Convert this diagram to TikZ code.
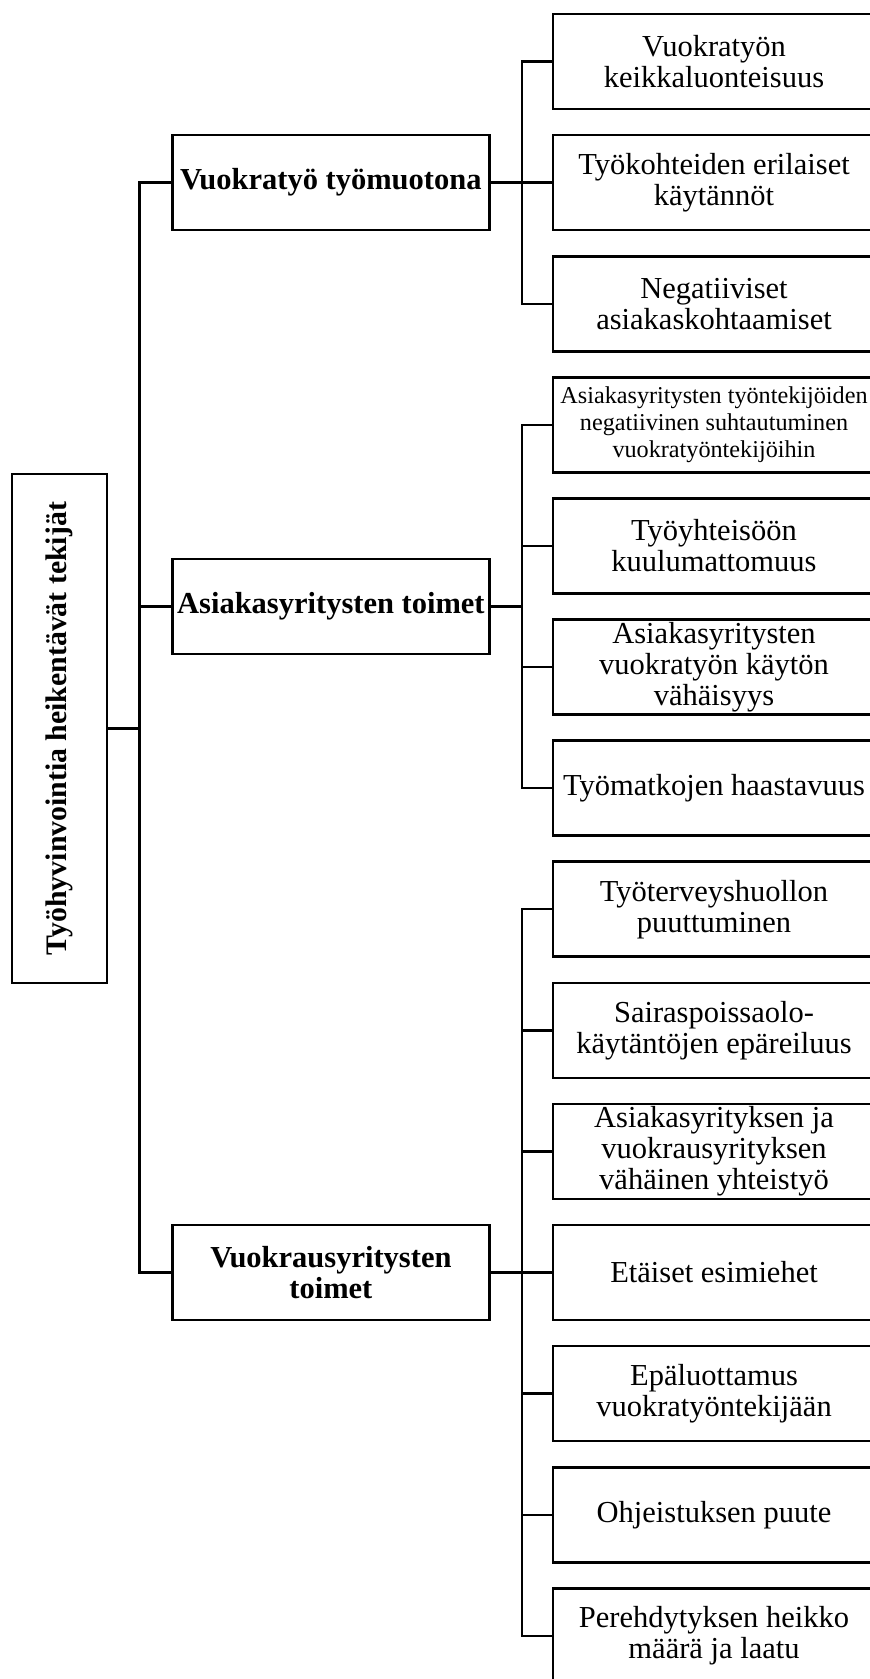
\documentclass[tikz,border=0pt]{standalone}
\usepackage{fontspec}
\setmainfont{Liberation Serif}
\usepackage{tikz}
\usetikzlibrary{positioning,calc}

\begin{document}
\begin{tikzpicture}[
  x=1pt, y=-1pt,
  node distance=23.5pt,
  box/.style={draw, rectangle, line width=2.6pt, align=center, inner xsep=2pt, inner ysep=0pt},
  rootbox/.style={box, minimum width=95pt, minimum height=509pt, font=\fontsize{29.8}{32}\selectfont\bfseries},
  mainbox/.style={box, minimum width=317pt, minimum height=95pt, font=\fontsize{30.5}{31.5}\selectfont\bfseries},
  subbox/.style={box, minimum width=322pt, minimum height=95pt, font=\fontsize{30.5}{31}\selectfont},
  smalltext/.style={font=\fontsize{24.2}{27}\selectfont},
  link/.style={line width=2.4pt}
]
\useasboundingbox (0,0) rectangle (870,1679);

% ROOT
\node (root) [rootbox] at (59.5,728.5)
             {\rotatebox{90}{Työhyvinvointia heikentävät tekijät}};

% SUB-FACTORS
\node (s1)  [subbox] at (714,61.5)  {Vuokratyön\\keikkaluonteisuus};
\node (s2)  [subbox, below=of s1]   {Työkohteiden erilaiset\\käytännöt};
\node (s3)  [subbox, below=of s2]   {Negatiiviset\\asiakaskohtaamiset};
\node (s4)  [subbox, smalltext, below=of s3]
            {Asiakasyritysten työntekijöiden\\negatiivinen suhtautuminen\\vuokratyöntekijöihin};
\node (s5)  [subbox, below=of s4]   {Työyhteisöön\\kuulumattomuus};
\node (s6)  [subbox, below=of s5]   {Asiakasyritysten\\vuokratyön käytön\\vähäisyys};
\node (s7)  [subbox, below=of s6]   {Työmatkojen haastavuus};
\node (s8)  [subbox, below=of s7]   {Työterveyshuollon\\puuttuminen};
\node (s9)  [subbox, below=of s8]   {Sairaspoissaolo-\\käytäntöjen epäreiluus};
\node (s10) [subbox, below=of s9]   {Asiakasyrityksen ja\\vuokrausyrityksen\\vähäinen yhteistyö};
\node (s11) [subbox, below=of s10]  {Etäiset esimiehet};
\node (s12) [subbox, below=of s11]  {Epäluottamus\\vuokratyöntekijään};
\node (s13) [subbox, below=of s12]  {Ohjeistuksen puute};
\node (s14) [subbox, below=of s13]  {Perehdytyksen heikko\\määrä ja laatu};

% MAIN FACTORS
\node (m1) [mainbox, left=61pt of s2]  {Vuokratyö työmuotona};
\path ($(s5)!.5!(s6)$) coordinate (mid2);
\node (m2) [mainbox] at (m1 |- mid2)   {Asiakasyritysten toimet};
\node (m3) [mainbox, left=61pt of s11] {Vuokrausyritysten\\toimet};

% CONNECTORS
\draw[link] (root.east) -- ++(31,0) coordinate (hub);
\draw[link] (m1.west) -| (hub) |- (m3.west);
\draw[link] (hub) |- (m2.west);

\draw[link] (m1.east) -- ++(31,0) coordinate (hubA);
\draw[link] (s1.west) -| (hubA) |- (s3.west);
\draw[link] (hubA) -- (s2.west);

\draw[link] (m2.east) -- ++(31,0) coordinate (hubB);
\draw[link] (s4.west) -| (hubB) |- (s7.west);
\foreach \s in {s5,s6} \draw[link] (hubB) |- (\s.west);

\draw[link] (m3.east) -- ++(31,0) coordinate (hubC);
\draw[link] (s8.west) -| (hubC) |- (s14.west);
\foreach \s in {s9,s10,s12,s13} \draw[link] (hubC) |- (\s.west);
\draw[link] (hubC) -- (s11.west);
\end{tikzpicture}
\end{document}
